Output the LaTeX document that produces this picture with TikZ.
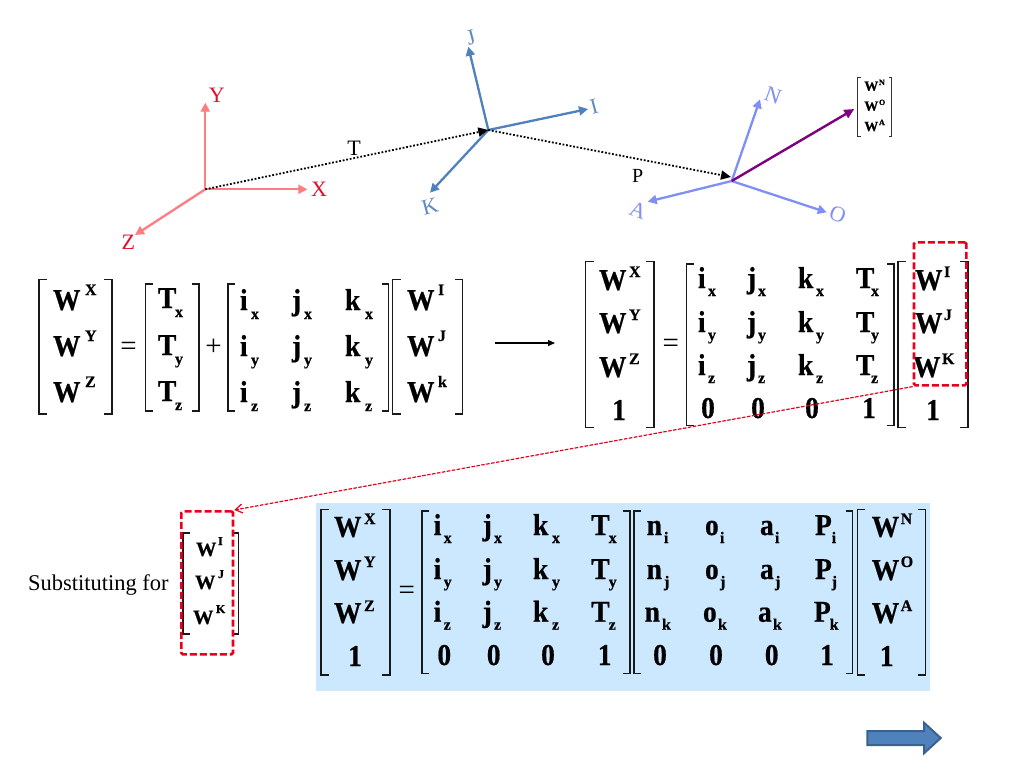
\documentclass[tikz,border=0pt]{standalone}
\usepackage{graphicx}
\usepackage{fontspec}
\setmainfont[BoldFeatures={FakeBold=0.6}]{Liberation Serif}
\usetikzlibrary{arrows.meta}
\newcounter{nn}
\definecolor{axr}{HTML}{FF7C80}
\definecolor{labr}{HTML}{E0102A}
\definecolor{axb}{HTML}{4F81BD}
\definecolor{labb}{HTML}{5F8BC0}
\definecolor{axv}{HTML}{7F8FF5}
\definecolor{pur}{HTML}{7F007F}
\definecolor{boxr}{HTML}{E8001C}
\definecolor{panel}{HTML}{CCE8FF}
\tikzset{
  txt/.style={inner sep=0pt,outer sep=0pt,text=black},
  bracketline/.style={line width=1.4pt,draw=black!90},
  axisred/.style={draw=axr,line width=2.3pt,-{Triangle[length=9pt,width=9pt]}},
  axisblue/.style={draw=axb,line width=2.3pt,-{Triangle[length=9pt,width=9pt]}},
  axisviolet/.style={draw=axv,line width=2.3pt,-{Triangle[length=9pt,width=9pt]}},
  dottedlink/.style={draw=black,line width=1.8pt,dash pattern=on 1.8pt off 1.8pt,-{Triangle[length=10pt,width=9pt]}},
  redbox/.style={draw=boxr,line width=2.6pt,dash pattern=on 7pt off 3pt,rounded corners=1.5pt},
}
\newcommand{\nextn}{\stepcounter{nn}}
% left-aligned on baseline: x y size text
\newcommand{\lab}[4]{\nextn\node[txt,anchor=base west,font=\fontsize{#3}{#3}\selectfont] (n\arabic{nn}) at (#1,#2) {#4};}
% centred on baseline
\newcommand{\labc}[4]{\nextn\node[txt,anchor=base,font=\fontsize{#3}{#3}\selectfont] (n\arabic{nn}) at (#1,#2) {#4};}
% centred and turned: x y size angle text
\newcommand{\labt}[5]{\nextn\node[txt,anchor=center,rotate=#4,font=\fontsize{#3}{#3}\selectfont] (n\arabic{nn}) at (#1,#2) {#5};}
\newcommand{\tallb}[2]{\scalebox{1}[1.1]{\fontsize{#1}{#1}\selectfont\textbf{#2}}}
\newcommand{\mainT}[3]{\lab{#1}{#2}{27.5}{\tallb{27.5}{#3}}}
\newcommand{\scrT}[3]{\lab{#1}{#2}{16}{\textbf{#3}}}
\newcommand{\oneT}[3]{\labc{#1}{#2}{27.5}{\tallb{27.5}{#3}}}
\newcommand{\brk}[5]{\draw[bracketline] (#1+#5,#3) -- (#1,#3) -- (#1,#4) -- (#1+#5,#4);
  \draw[bracketline] (#2-#5,#3) -- (#2,#3) -- (#2,#4) -- (#2-#5,#4);}
\begin{document}
\begin{tikzpicture}[x=1pt,y=-1pt]
\useasboundingbox (0,0) rectangle (1024,768);
\fill[white] (0,0) rectangle (1024,768);

% --- frames ---
\coordinate (o1) at (205.3,189.3);
\coordinate (o2) at (488.3,130);
\coordinate (o3) at (731.7,181);
\coordinate (tipP) at (731,177);
\coordinate (tipY) at (205.3,102.7);
\coordinate (tipX) at (307.3,189.3);
\coordinate (tipZ) at (135,235);
\coordinate (tipJ) at (468.3,46.7);
\coordinate (tipK) at (430,192.7);
\coordinate (tipI) at (588,109);
\coordinate (tipN) at (760,99.3);
\coordinate (tipO) at (826.7,212.3);
\coordinate (tipA) at (647.7,201.7);
\coordinate (tipW) at (854.3,109);
\draw[axisred] (o1) -- (tipY);
\draw[axisred] (o1) -- (tipX);
\draw[axisred] (o1) -- (tipZ);
\draw[axisblue] (o2) -- (tipJ);
\draw[axisblue] (o2) -- (tipK);
\draw[axisblue] (o2) -- (tipI);
\draw[axisviolet] (o3) -- (tipN);
\draw[axisviolet] (o3) -- (tipO);
\draw[axisviolet] (o3) -- (tipA);
\draw[draw=pur,line width=2.4pt,-{Triangle[length=10pt,width=9pt]}] (o3) -- (tipW);
\draw[dottedlink] (o1) -- (o2);
\draw[dottedlink] (o2) -- (tipP);

\labc{216.7}{102}{22}{\textcolor{labr}{Y}}
\labc{319}{196.5}{22}{\textcolor{labr}{X}}
\labc{128.3}{249.5}{22}{\textcolor{labr}{Z}}
\labc{354}{155}{22}{T}
\labt{471}{37.3}{22}{15}{\textcolor{labb}{J}}
\labt{430}{206.7}{22}{15}{\textcolor{labb}{K}}
\labt{594}{107}{22}{15}{\textcolor{labb}{I}}
\labt{773}{95}{22}{-20}{\textcolor{axv}{N}}
\labt{837.7}{214.3}{22}{-20}{\textcolor{axv}{O}}
\labt{638}{210.7}{22}{-20}{\textcolor{axv}{A}}
\labc{637.7}{182.5}{20}{P}

% small matrix, top right
\draw[line width=0.9pt,draw=black!80] (860.5,77.3) -- (857.3,77.3) -- (857.3,136.7) -- (860.5,136.7);
\draw[line width=0.9pt,draw=black!80] (888.5,77.3) -- (891.7,77.3) -- (891.7,136.7) -- (888.5,136.7);
\lab{864.3}{90.7}{14}{\textbf{W}}\lab{879}{85}{8}{\textbf{N}}
\lab{864.3}{110.7}{14}{\textbf{W}}\lab{879}{105}{8}{\textbf{O}}
\lab{864.3}{131}{14}{\textbf{W}}\lab{879}{125}{8}{\textbf{A}}

% --- first equation ---
\brk{39}{112}{279.5}{414}{8}
\mainT{53}{310}{W}\scrT{85}{295}{X}
\mainT{53}{356}{W}\scrT{85}{341}{Y}
\mainT{53}{402}{W}\scrT{85}{387}{Z}
\labc{128.5}{355}{29}{=}
\brk{145.7}{199}{284}{411}{7}
\foreach \y/\s in {308/x,355/y,401/z}{
  \mainT{158}{\y}{T}\pgfmathsetmacro{\sy}{\y+9}\scrT{175}{\sy}{\s}}
\labc{213.5}{355}{29}{+}
\brk{228}{388.5}{284}{411}{7}
\foreach \y/\s in {310/x,356/y,402/z}{
  \pgfmathsetmacro{\sy}{\y+9}
  \mainT{240}{\y}{i}\scrT{251}{\sy}{\s}
  \mainT{292}{\y}{j}\scrT{304}{\sy}{\s}
  \mainT{345}{\y}{k}\scrT{365}{\sy}{\s}}
\brk{392.6}{462.5}{279.5}{414}{8}
\mainT{407}{310}{W}\scrT{438}{295}{I}
\mainT{407}{356}{W}\scrT{438}{341}{J}
\mainT{407}{402}{W}\scrT{438}{387}{k}
\coordinate (arA) at (495,343);
\coordinate (arB) at (555,343);
\draw[line width=1.3pt,-{Triangle[length=7pt,width=6pt]}] (arA) -- (arB);

% --- second equation ---
\brk{585.7}{654}{261.7}{427.7}{8}
\mainT{599}{290}{W}\scrT{629}{277}{X}
\mainT{599}{333}{W}\scrT{629}{320}{Y}
\mainT{599}{377}{W}\scrT{629}{364}{Z}
\oneT{619}{420}{1}
\labc{670.7}{352}{29}{=}
\brk{686.7}{894}{264}{425.7}{7}
\foreach \y/\s in {288/x,332/y,375/z}{
  \pgfmathsetmacro{\sy}{\y+8}
  \mainT{698}{\y}{i}\scrT{708}{\sy}{\s}
  \mainT{747}{\y}{j}\scrT{758}{\sy}{\s}
  \mainT{798}{\y}{k}\scrT{816}{\sy}{\s}
  \mainT{856}{\y}{T}\scrT{871}{\sy}{\s}}
\oneT{708}{418}{0}\oneT{758}{418}{0}\oneT{812}{418}{0}\oneT{869}{418}{1}
\brk{898}{968}{261.7}{427.7}{8}
\mainT{915}{290}{W}\scrT{944}{277}{I}
\mainT{915}{333}{W}\scrT{944}{320}{J}
\mainT{913}{377}{W}\scrT{942}{364}{K}
\oneT{933}{420}{1}

% --- substitution ---
\lab{28}{590.7}{22.5}{Substituting for}
\draw[bracketline] (190,533) -- (183,533) -- (183,634) -- (190,634);
\draw[bracketline] (232,533) -- (238.3,533) -- (238.3,634) -- (232,634);
\lab{196}{556}{20.5}{\textbf{W}}\lab{218}{545}{12}{\textbf{I}}
\lab{195}{589}{20.5}{\textbf{W}}\lab{218}{578}{12}{\textbf{J}}
\lab{193}{624}{20.5}{\textbf{W}}\lab{216}{613}{12}{\textbf{K}}

% --- panel ---
\fill[panel] (316,503) rectangle (930,691);
\brk{321}{390}{509.3}{675}{8}
\mainT{334}{536.7}{W}\scrT{364}{524}{X}
\mainT{334}{580}{W}\scrT{364}{567}{Y}
\mainT{334}{623}{W}\scrT{364}{611}{Z}
\oneT{355}{666}{1}
\labc{406.7}{599.5}{29}{=}
\brk{422}{630}{511}{673.3}{7}
\foreach \y/\s in {535/x,579/y,621.7/z}{
  \pgfmathsetmacro{\sy}{\y+8}
  \mainT{433.7}{\y}{i}\scrT{443.7}{\sy}{\s}
  \mainT{482.7}{\y}{j}\scrT{494}{\sy}{\s}
  \mainT{533}{\y}{k}\scrT{552}{\sy}{\s}
  \mainT{591.3}{\y}{T}\scrT{608.7}{\sy}{\s}}
\oneT{444.3}{665}{0}\oneT{493.7}{665}{0}\oneT{548}{665}{0}\oneT{604.7}{665}{1}
\brk{634}{852.7}{511}{673.3}{7}
\foreach \y/\s/\d in {535/i/0,579/j/0,621.7/k/2}{
  \pgfmathsetmacro{\sy}{\y+8}
  \pgfmathsetmacro{\xa}{646.7-\d}\pgfmathsetmacro{\xb}{705-\d}\pgfmathsetmacro{\xc}{760-\d}\pgfmathsetmacro{\xd}{815-\d/2}
  \pgfmathsetmacro{\sa}{664-\d}\pgfmathsetmacro{\sb}{720-\d}\pgfmathsetmacro{\sc}{775-\d}\pgfmathsetmacro{\sd}{831.7-\d}
  \mainT{\xa}{\y}{n}\scrT{\sa}{\sy}{\s}
  \mainT{\xb}{\y}{o}\scrT{\sb}{\sy}{\s}
  \mainT{\xc}{\y}{a}\scrT{\sc}{\sy}{\s}
  \mainT{\xd}{\y}{P}\scrT{\sd}{\sy}{\s}}
\oneT{660}{665}{0}\oneT{716}{665}{0}\oneT{771.7}{665}{0}\oneT{827}{665}{1}
\brk{857.3}{925.7}{509.3}{675}{8}
\mainT{871.7}{536.7}{W}\scrT{900.7}{524}{N}
\mainT{871.7}{580}{W}\scrT{900.7}{567}{O}
\mainT{871.7}{623}{W}\scrT{900.7}{611}{A}
\oneT{886.7}{666}{1}

% --- dashed boxes and link ---
\node[redbox,inner sep=0pt,minimum width=52.3pt,minimum height=143pt,anchor=north west] (boxA) at (912.7,241) {};
\node[redbox,inner sep=0pt,minimum width=51.7pt,minimum height=143pt,anchor=north west] (boxB) at (180,510) {};
\draw[draw=boxr,line width=1.2pt,dash pattern=on 3.5pt off 1.5pt,-{Straight Barb[length=7pt,width=9pt]}] (boxA.south west) -- (boxB.north east);

% --- block arrow ---
\draw[draw=axb!75!black,fill=axb,line width=2pt,line join=miter] (867.3,731) -- (924,731) -- (924,722.7) -- (940.7,738) -- (924,753.3) -- (924,745) -- (867.3,745) -- cycle;
\end{tikzpicture}
\end{document}
